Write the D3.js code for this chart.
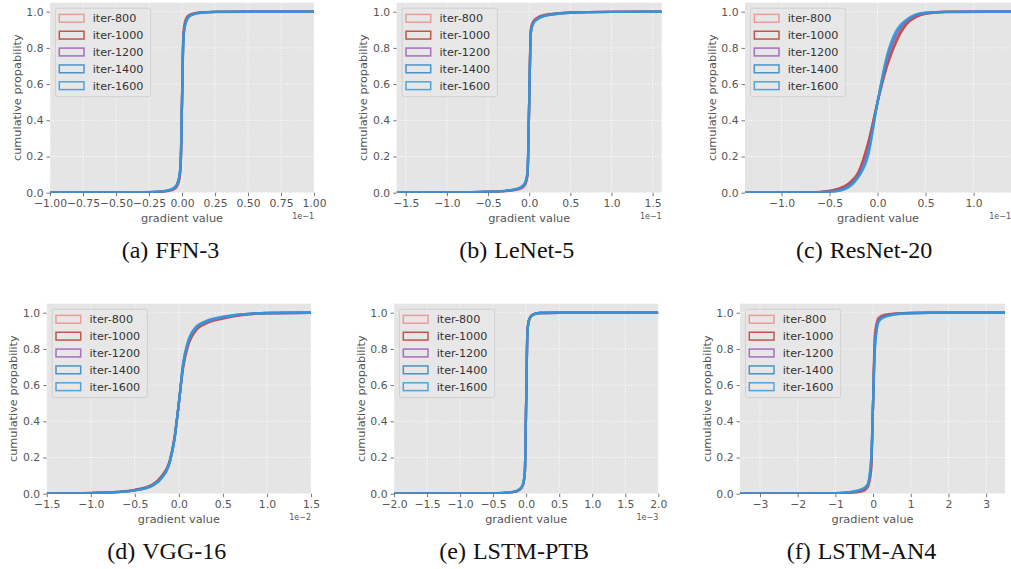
<!DOCTYPE html>
<html><head><meta charset="utf-8">
<script src="https://cdn.jsdelivr.net/npm/d3@7"></script>
<style>html,body{margin:0;padding:0;background:#fff} svg{display:block}</style>
</head><body>
<svg id="chart" width="1011" height="569"></svg>
<script>
// ---------------- data ----------------
const iterations = ["iter-800", "iter-1000", "iter-1200", "iter-1400", "iter-1600"];
const palette = ["#ef8f85", "#c0392b", "#9b59b6", "#2e86c1", "#3498db"];

const captions = ["(a)|FFN-3", "(b)|LeNet-5", "(c)|ResNet-20", "(d)|VGG-16", "(e)|LSTM-PTB", "(f)|LSTM-AN4"];
const offsetTexts = ["1e\u22121", "1e\u22121", "1e\u22121", "1e\u22122", "1e\u22123", ""];
const yTicks = [0, 0.2, 0.4, 0.6, 0.8, 1.0];

// (a) FFN-3, x in units of 1e-1
const ffnDomain = [-1.0, 1.0];
const ffnTicks = [-1.0, -0.75, -0.5, -0.25, 0, 0.25, 0.5, 0.75, 1.0];
const ffnX = [-1.0, -0.5, -0.25, -0.15, -0.1, -0.06, -0.04, -0.02, -0.01, 0.0, 0.01, 0.02, 0.04, 0.06, 0.1, 0.15, 0.25, 0.5, 1.0];
const ffnCdf = [
  [0, 0.001, 0.002, 0.005, 0.009, 0.018, 0.03, 0.07, 0.14, 0.5, 0.88, 0.94, 0.975, 0.985, 0.993, 0.997, 0.999, 1, 1],
  [0, 0.001, 0.003, 0.006, 0.011, 0.022, 0.036, 0.08, 0.15, 0.5, 0.86, 0.93, 0.97, 0.982, 0.991, 0.996, 0.999, 1, 1],
  [0, 0.001, 0.003, 0.007, 0.012, 0.025, 0.04, 0.085, 0.16, 0.5, 0.85, 0.92, 0.965, 0.98, 0.99, 0.995, 0.999, 1, 1],
  [0, 0.001, 0.003, 0.007, 0.013, 0.027, 0.043, 0.09, 0.17, 0.5, 0.84, 0.915, 0.96, 0.978, 0.989, 0.995, 0.999, 1, 1],
  [0, 0.001, 0.004, 0.008, 0.014, 0.028, 0.045, 0.095, 0.17, 0.5, 0.83, 0.91, 0.958, 0.976, 0.988, 0.994, 0.998, 1, 1]
];

// (b) LeNet-5, x in units of 1e-1
const lenetDomain = [-1.61, 1.61];
const lenetTicks = [-1.5, -1.0, -0.5, 0, 0.5, 1.0, 1.5];
const lenetX = [-1.61, -1.0, -0.5, -0.3, -0.2, -0.1, -0.05, -0.02, 0, 0.02, 0.05, 0.1, 0.2, 0.3, 0.5, 1.0, 1.61];
const lenetCdf = [
  [0, 0.001, 0.004, 0.008, 0.012, 0.022, 0.04, 0.09, 0.5, 0.91, 0.95, 0.97, 0.985, 0.99, 0.996, 0.999, 1],
  [0, 0.001, 0.004, 0.009, 0.014, 0.026, 0.048, 0.1, 0.5, 0.9, 0.945, 0.965, 0.982, 0.988, 0.995, 0.999, 1],
  [0, 0.001, 0.005, 0.009, 0.015, 0.028, 0.05, 0.11, 0.5, 0.89, 0.94, 0.962, 0.98, 0.987, 0.995, 0.999, 1],
  [0, 0.001, 0.005, 0.01, 0.016, 0.03, 0.053, 0.115, 0.5, 0.885, 0.937, 0.96, 0.979, 0.986, 0.994, 0.999, 1],
  [0, 0.001, 0.005, 0.01, 0.016, 0.03, 0.055, 0.12, 0.5, 0.88, 0.935, 0.958, 0.978, 0.986, 0.994, 0.999, 1]
];

// (c) ResNet-20, x in units of 1e-1
const resnetDomain = [-1.38, 1.39];
const resnetTicks = [-1.0, -0.5, 0, 0.5, 1.0];
const resnetX = [-1.38, -0.7, -0.5, -0.4, -0.3, -0.2, -0.1, 0, 0.1, 0.2, 0.3, 0.4, 0.5, 0.7, 1.39];
const resnetCdf = [
  [0, 0.002, 0.011, 0.024, 0.052, 0.115, 0.27, 0.5, 0.71, 0.85, 0.935, 0.972, 0.989, 0.998, 1],
  [0, 0.002, 0.01, 0.022, 0.05, 0.11, 0.27, 0.5, 0.7, 0.84, 0.93, 0.97, 0.988, 0.998, 1],
  [0, 0.001, 0.007, 0.016, 0.04, 0.1, 0.24, 0.5, 0.73, 0.87, 0.945, 0.978, 0.992, 0.999, 1],
  [0, 0.001, 0.005, 0.012, 0.033, 0.09, 0.21, 0.5, 0.75, 0.89, 0.952, 0.983, 0.994, 0.999, 1],
  [0, 0.0005, 0.004, 0.01, 0.03, 0.085, 0.2, 0.5, 0.76, 0.9, 0.955, 0.985, 0.995, 0.999, 1]
];

// (d) VGG-16, x in units of 1e-2
const vggDomain = [-1.5, 1.5];
const vggTicks = [-1.5, -1.0, -0.5, 0, 0.5, 1.0, 1.5];
const vggX = [-1.5, -1.0, -0.7, -0.5, -0.3, -0.2, -0.1, -0.05, 0, 0.05, 0.1, 0.2, 0.3, 0.5, 0.7, 1.0, 1.5];
const vggCdf = [
  [0, 0.004, 0.009, 0.02, 0.048, 0.09, 0.185, 0.305, 0.5, 0.71, 0.82, 0.91, 0.942, 0.97, 0.988, 0.997, 1],
  [0, 0.004, 0.01, 0.021, 0.05, 0.095, 0.19, 0.31, 0.5, 0.7, 0.81, 0.905, 0.938, 0.968, 0.986, 0.997, 1],
  [0, 0.003, 0.009, 0.019, 0.046, 0.088, 0.183, 0.302, 0.5, 0.715, 0.825, 0.915, 0.945, 0.972, 0.989, 0.998, 1],
  [0, 0.003, 0.008, 0.018, 0.044, 0.083, 0.178, 0.298, 0.5, 0.725, 0.835, 0.925, 0.952, 0.978, 0.991, 0.998, 1],
  [0, 0.003, 0.008, 0.018, 0.045, 0.085, 0.18, 0.3, 0.5, 0.72, 0.83, 0.92, 0.948, 0.975, 0.99, 0.998, 1]
];

// (e) LSTM-PTB, x in units of 1e-3
const ptbDomain = [-2.0, 2.0];
const ptbTicks = [-2.0, -1.5, -1.0, -0.5, 0, 0.5, 1.0, 1.5, 2.0];
const ptbX = [-2.0, -0.5, -0.2, -0.1, -0.05, -0.02, 0, 0.02, 0.05, 0.1, 0.2, 0.5, 2.0];
const ptbCdf = [
  [0, 0.001, 0.008, 0.02, 0.045, 0.11, 0.5, 0.91, 0.97, 0.99, 0.998, 1, 1],
  [0, 0.002, 0.009, 0.022, 0.047, 0.115, 0.5, 0.905, 0.968, 0.989, 0.998, 1, 1],
  [0, 0.002, 0.009, 0.023, 0.048, 0.118, 0.5, 0.9, 0.966, 0.988, 0.998, 1, 1],
  [0, 0.002, 0.01, 0.024, 0.05, 0.12, 0.5, 0.9, 0.965, 0.988, 0.998, 1, 1],
  [0, 0.002, 0.01, 0.025, 0.05, 0.12, 0.5, 0.898, 0.964, 0.987, 0.998, 1, 1]
];

// (f) LSTM-AN4
const an4Domain = [-3.53, 3.5];
const an4Ticks = [-3, -2, -1, 0, 1, 2, 3];
const an4X = [-3.53, -1.5, -1.0, -0.6, -0.3, -0.15, -0.05, 0, 0.05, 0.15, 0.3, 0.6, 1.0, 1.5, 3.5];
const an4Cdf = [
  [0, 0, 0.001, 0.004, 0.01, 0.03, 0.12, 0.5, 0.9, 0.975, 0.99, 0.996, 0.999, 1, 1],
  [0, 0.0005, 0.0015, 0.005, 0.014, 0.037, 0.14, 0.5, 0.87, 0.968, 0.986, 0.995, 0.999, 1, 1],
  [0, 0.0005, 0.002, 0.007, 0.018, 0.042, 0.16, 0.5, 0.85, 0.962, 0.983, 0.994, 0.998, 1, 1],
  [0, 0.001, 0.0025, 0.008, 0.022, 0.047, 0.18, 0.5, 0.82, 0.955, 0.978, 0.992, 0.997, 0.999, 1],
  [0, 0.001, 0.003, 0.01, 0.025, 0.05, 0.2, 0.5, 0.8, 0.95, 0.975, 0.99, 0.997, 0.999, 1]
];

// ---------------- assembly ----------------
const panels = [
  {x: ffnX, cdf: ffnCdf, domain: ffnDomain, ticks: ffnTicks, fmt: ".2f"},
  {x: lenetX, cdf: lenetCdf, domain: lenetDomain, ticks: lenetTicks, fmt: ".1f"},
  {x: resnetX, cdf: resnetCdf, domain: resnetDomain, ticks: resnetTicks, fmt: ".1f"},
  {x: vggX, cdf: vggCdf, domain: vggDomain, ticks: vggTicks, fmt: ".1f"},
  {x: ptbX, cdf: ptbCdf, domain: ptbDomain, ticks: ptbTicks, fmt: ".1f"},
  {x: an4X, cdf: an4Cdf, domain: an4Domain, ticks: an4Ticks, fmt: "d"}
];

// layout (pixels)
const layout = [
  {l: 50,    r: 314,   t: 2.65,   b: 192.7, capX: 121.7, capY: 258.3},
  {l: 396.7, r: 661.7, t: 2.65,   b: 192.7, capX: 459.3, capY: 258.3},
  {l: 745,   r: 1011,  t: 2.65,   b: 192.7, capX: 796,   capY: 258.3},
  {l: 46.7,  r: 311,   t: 303.65, b: 493.7, capX: 107.3, capY: 559.3},
  {l: 394,   r: 658.3, t: 303.65, b: 493.7, capX: 439.3, capY: 559.3},
  {l: 740,   r: 1005,  t: 303.65, b: 493.7, capX: 786.7, capY: 559.3}
];

const svg = d3.select("#chart");
svg.append("rect").attr("width", 1011).attr("height", 569).attr("fill", "#fff");

const TICK_COLOR = "#555555";
const FONT = "'DejaVu Sans', sans-serif";

panels.forEach((p, i) => {
  const L = layout[i];
  const g = svg.append("g");
  const x = d3.scaleLinear().domain(p.domain).range([L.l, L.r]);
  const y = d3.scaleLinear().domain([0, 1.05]).range([L.b, L.t]);

  // background
  g.append("rect").attr("x", L.l).attr("y", L.t)
    .attr("width", L.r - L.l).attr("height", L.b - L.t).attr("fill", "#e5e5e5");

  // grid
  const grid = g.append("g").attr("stroke", "#ffffff").attr("stroke-width", 0.9)
    .attr("stroke-dasharray", "1.2,1.8").attr("fill", "none");
  p.ticks.forEach(t => {
    grid.append("line").attr("x1", x(t)).attr("x2", x(t)).attr("y1", L.t).attr("y2", L.b);
  });
  yTicks.forEach(t => {
    grid.append("line").attr("x1", L.l).attr("x2", L.r).attr("y1", y(t)).attr("y2", y(t));
  });

  // clip
  const clipId = "clip" + i;
  svg.append("clipPath").attr("id", clipId).append("rect")
    .attr("x", L.l).attr("y", L.t).attr("width", L.r - L.l).attr("height", L.b - L.t);

  // curves
  const line = d3.line().x(d => x(d[0])).y(d => y(d[1])).curve(d3.curveMonotoneX);
  const curves = g.append("g").attr("clip-path", `url(#${clipId})`);
  p.cdf.forEach((vals, k) => {
    const pts = p.x.map((xv, j) => [xv, vals[j]]);
    curves.append("path").attr("d", line(pts))
      .attr("fill", "none").attr("stroke", palette[k])
      .attr("stroke-width", 2.4).attr("stroke-opacity", 0.82)
      .attr("stroke-linejoin", "round");
  });

  // axes
  const xa = g.append("g").attr("transform", `translate(0,${L.b})`)
    .call(d3.axisBottom(x).tickValues(p.ticks).tickFormat(d3.format(p.fmt)).tickSize(3.5).tickPadding(3));
  const ya = g.append("g").attr("transform", `translate(${L.l},0)`)
    .call(d3.axisLeft(y).tickValues(yTicks).tickFormat(d3.format(".1f")).tickSize(3.5).tickPadding(3));
  [xa, ya].forEach(a => {
    a.select(".domain").remove();
    a.selectAll(".tick line").attr("stroke", TICK_COLOR).attr("stroke-width", 0.8);
    a.selectAll(".tick text").attr("fill", TICK_COLOR)
      .style("font-family", FONT).style("font-size", "10.8px");
  });

  // axis labels
  g.append("text").attr("x", (L.l + L.r) / 2).attr("y", L.b + 29)
    .attr("text-anchor", "middle").attr("fill", TICK_COLOR)
    .style("font-family", FONT).style("font-size", "11.3px").text("gradient value");
  g.append("text")
    .attr("transform", `translate(${L.l - 29.4},${(L.t + L.b) / 2}) rotate(-90)`)
    .attr("text-anchor", "middle").attr("fill", TICK_COLOR)
    .style("font-family", FONT).style("font-size", "11.3px").text("cumulative propability");
  if (offsetTexts[i]) {
    g.append("text").attr("x", L.r).attr("y", L.b + 26.5)
      .attr("text-anchor", "end").attr("fill", TICK_COLOR)
      .style("font-family", FONT).style("font-size", "8px").text(offsetTexts[i]);
  }

  // legend
  const lg = g.append("g").attr("transform", `translate(${L.l + 5.5},${L.t + 5.6})`);
  lg.append("rect").attr("width", 95.2).attr("height", 88.4).attr("rx", 2.5)
    .attr("fill", "#e8e8e8").attr("fill-opacity", 0.85)
    .attr("stroke", "#cccccc").attr("stroke-width", 0.8);
  iterations.forEach((name, k) => {
    const cy = 10.05 + k * 16.85;
    lg.append("rect").attr("x", 3.8).attr("y", cy - 3.9).attr("width", 24.7).attr("height", 7.8)
      .attr("fill", "none").attr("stroke", palette[k]).attr("stroke-width", 1.5).attr("stroke-opacity", 0.85);
    lg.append("text").attr("x", 37.2).attr("y", cy).attr("dy", "0.36em")
      .attr("fill", "#333333").style("font-family", FONT).style("font-size", "11.2px").text(name);
  });

  // caption
  const parts = captions[i].split("|");
  const cap = svg.append("text").attr("x", L.capX).attr("y", L.capY)
    .attr("fill", "#111").style("font-family", "'Liberation Serif', 'Times New Roman', serif")
    .style("font-size", "24px");
  cap.append("tspan").text(parts[0]);
  cap.append("tspan").attr("dx", 7).text(parts[1]);
});
</script>
</body></html>
